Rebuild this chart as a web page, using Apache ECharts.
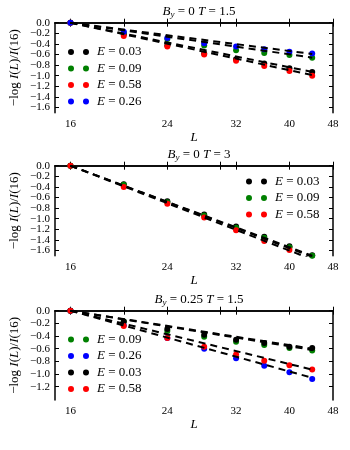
<!DOCTYPE html>
<html>
<head>
<meta charset="UTF-8">
<title>-log I(L)/I(16) vs L</title>
<script src="https://cdn.jsdelivr.net/npm/echarts@6/dist/echarts.min.js"></script>
<style>
  html,body{margin:0;height:100%;background:#fff;}
  #chart{width:350px;height:450px;}
</style>
</head>
<body>
<div id="chart"></div>
<script>
const L = [16, 20, 24, 28, 32, 36, 40, 44];
const fitL = [16, 44];
const xTickLabels = [16, 24, 32, 40, 48];
const xTicks = [16, 20, 24, 30, 32, 40, 48];

// panel 1 : B_y = 0, T = 1.5
const p1_E003 = [0, -0.22, -0.43, -0.58, -0.69, -0.77, -0.86, -0.93];
const p1_E009 = [0, -0.19, -0.31, -0.43, -0.52, -0.57, -0.61, -0.66];
const p1_E058 = [0, -0.25, -0.45, -0.60, -0.72, -0.82, -0.91, -1.00];
const p1_E026 = [0, -0.17, -0.29, -0.39, -0.45, -0.50, -0.55, -0.58];
const p1_fitEnd = [-0.93, -0.66, -0.99, -0.59];

// panel 2 : B_y = 0, T = 3
const p2_E003 = [0, -0.35, -0.67, -0.92, -1.15, -1.34, -1.52, -1.69];
const p2_E009 = [0, -0.36, -0.69, -0.94, -1.17, -1.36, -1.54, -1.70];
const p2_E058 = [0, -0.40, -0.72, -0.98, -1.22, -1.42, -1.59, -1.77];
const p2_fitEnd = [-1.70, -1.72, -1.77];

// panel 3 : B_y = 0.25, T = 1.5
const p3_E009 = [0, -0.17, -0.32, -0.41, -0.49, -0.54, -0.59, -0.63];
const p3_E026 = [0, -0.23, -0.43, -0.60, -0.75, -0.87, -0.97, -1.08];
const p3_E003 = [0, -0.17, -0.29, -0.38, -0.46, -0.51, -0.57, -0.59];
const p3_E058 = [0, -0.24, -0.43, -0.57, -0.69, -0.79, -0.86, -0.93];
const p3_fitEnd = [-0.62, -1.06, -0.60, -0.93];

// y tick labels (order chosen so the first/last pair never touch)
const yTicks12 = [-0.8, 0, -0.2, -0.4, -0.6, -1.2, -1.4, -1.6, -1.0];
const yTicks3 = [-0.6, 0, -0.2, -0.4, -0.8, -1.2, -1.0];

const COL = {'0.03':'#000000','0.09':'#008000','0.58':'#ff0000','0.26':'#0000ff'};
const SERIF = '"Liberation Serif", "DejaVu Serif", serif';
const dots = 'path://M0,3a3,3 0 1,0 6,0a3,3 0 1,0 -6,0zM15,3a3,3 0 1,0 6,0a3,3 0 1,0 -6,0z';

const panels = [
  {title:'{i|B}{s|y} = 0 {i|T} = 1.5', top:22.7, h:90, ymin:-1.7, yTicks:yTicks12,
   E:['0.03','0.09','0.58','0.26'], vals:[p1_E003,p1_E009,p1_E058,p1_E026], fit:p1_fitEnd,
   legend:{left:68, top:45.5}},
  {title:'{i|B}{s|y} = 0 {i|T} = 3', top:165.7, h:90, ymin:-1.7, yTicks:yTicks12,
   E:['0.03','0.09','0.58'], vals:[p2_E003,p2_E009,p2_E058], fit:p2_fitEnd,
   legend:{left:246, top:175}},
  {title:'{i|B}{s|y} = 0.25 {i|T} = 1.5', top:310.7, h:89.3, ymin:-1.41, yTicks:yTicks3,
   E:['0.09','0.26','0.03','0.58'], vals:[p3_E009,p3_E026,p3_E003,p3_E058], fit:p3_fitEnd,
   legend:{left:68, top:333}}
];

const titleRich = {
  i:{fontStyle:'italic', fontFamily:SERIF, fontSize:13, color:'#000'},
  s:{fontStyle:'italic', fontFamily:SERIF, fontSize:9, color:'#000', padding:[6,0,0,0]}
};
const fmtNum = v => v.toFixed(1).replace('-', '\u2212');
const axisLine = {show:true, lineStyle:{color:'#000', width:1.5}};
const tick = {show:true, inside:true, length:4, lineStyle:{color:'#000', width:1}};

const option = {
  animation:false,
  backgroundColor:'#fff',
  title:[], grid:[], xAxis:[], yAxis:[], legend:[], series:[]
};

panels.forEach((p, g) => {
  option.title.push({
    text:p.title, left:194, top:p.top - 24, textAlign:'center',
    textStyle:{fontFamily:SERIF, fontSize:13, fontWeight:'normal', color:'#000', rich:titleRich}
  });
  option.grid.push({left:55, width:278, top:p.top, height:p.h, show:false});
  option.xAxis.push({
    type:'log', logBase:10, gridIndex:g, min:15, max:48, position:'bottom',
    axisLine, axisTick:Object.assign({customValues:xTicks}, tick),
    axisLabel:{customValues:xTickLabels, color:'#000', fontFamily:SERIF, fontSize:11, margin:6},
    splitLine:{show:false}, minorTick:{show:false},
    name:'L', nameLocation:'middle', nameGap:18,
    nameTextStyle:{fontStyle:'italic', fontFamily:SERIF, fontSize:13, color:'#000'}
  });
  option.xAxis.push({
    type:'log', logBase:10, gridIndex:g, min:15, max:48, position:'top',
    axisLine, axisTick:Object.assign({customValues:xTicks}, tick),
    axisLabel:{show:false}, splitLine:{show:false}
  });
  option.yAxis.push({
    type:'value', gridIndex:g, min:p.ymin, max:0, position:'left',
    axisLine, axisTick:Object.assign({customValues:p.yTicks}, tick),
    axisLabel:{customValues:p.yTicks, formatter:fmtNum, margin:5, hideOverlap:false,
      textMargin:0, color:'#000', fontFamily:SERIF, fontSize:11, lineHeight:9},
    splitLine:{show:false},
    name:'\u2212log {i|I}({i|L})/{i|I}(16)', nameLocation:'middle', nameRotate:90, nameGap:34,
    nameTextStyle:{fontFamily:SERIF, fontSize:13, color:'#000',
      rich:{i:{fontStyle:'italic', fontFamily:SERIF, fontSize:13, color:'#000'}}}
  });
  option.yAxis.push({
    type:'value', gridIndex:g, min:p.ymin, max:0, position:'right',
    axisLine, axisTick:Object.assign({customValues:p.yTicks}, tick),
    axisLabel:{show:false}, splitLine:{show:false}
  });

  const names = p.E.map(e => 'E = ' + e);
  option.legend.push({
    data:names, orient:'vertical', left:p.legend.left, top:p.legend.top,
    icon:dots, itemWidth:21, itemHeight:6, itemGap:3.5, padding:0,
    formatter:n => '{i|E} = ' + n.slice(4),
    textStyle:{fontFamily:SERIF, fontSize:13, color:'#000', lineHeight:12, padding:[0,0,0,3],
      rich:{i:{fontStyle:'italic', fontFamily:SERIF, fontSize:13, color:'#000'}}}
  });

  p.E.forEach((e, k) => {
    option.series.push({
      name:'E = ' + e, type:'scatter', xAxisIndex:2*g, yAxisIndex:2*g,
      data:L.map((x, j) => [x, p.vals[k][j]]),
      symbolSize:6, itemStyle:{color:COL[e], opacity:1}, z:2
    });
  });
  p.E.forEach((e, k) => {
    option.series.push({
      name:'fit ' + g + '-' + e, type:'line', xAxisIndex:2*g, yAxisIndex:2*g,
      data:[[fitL[0], 0], [fitL[1], p.fit[k]]],
      showSymbol:false, symbol:'none', clip:true,
      lineStyle:{color:'#000', width:2, type:[7,5]}, z:3
    });
  });
});

const chart = echarts.init(document.getElementById('chart'));
chart.setOption(option);
</script>
</body>
</html>
